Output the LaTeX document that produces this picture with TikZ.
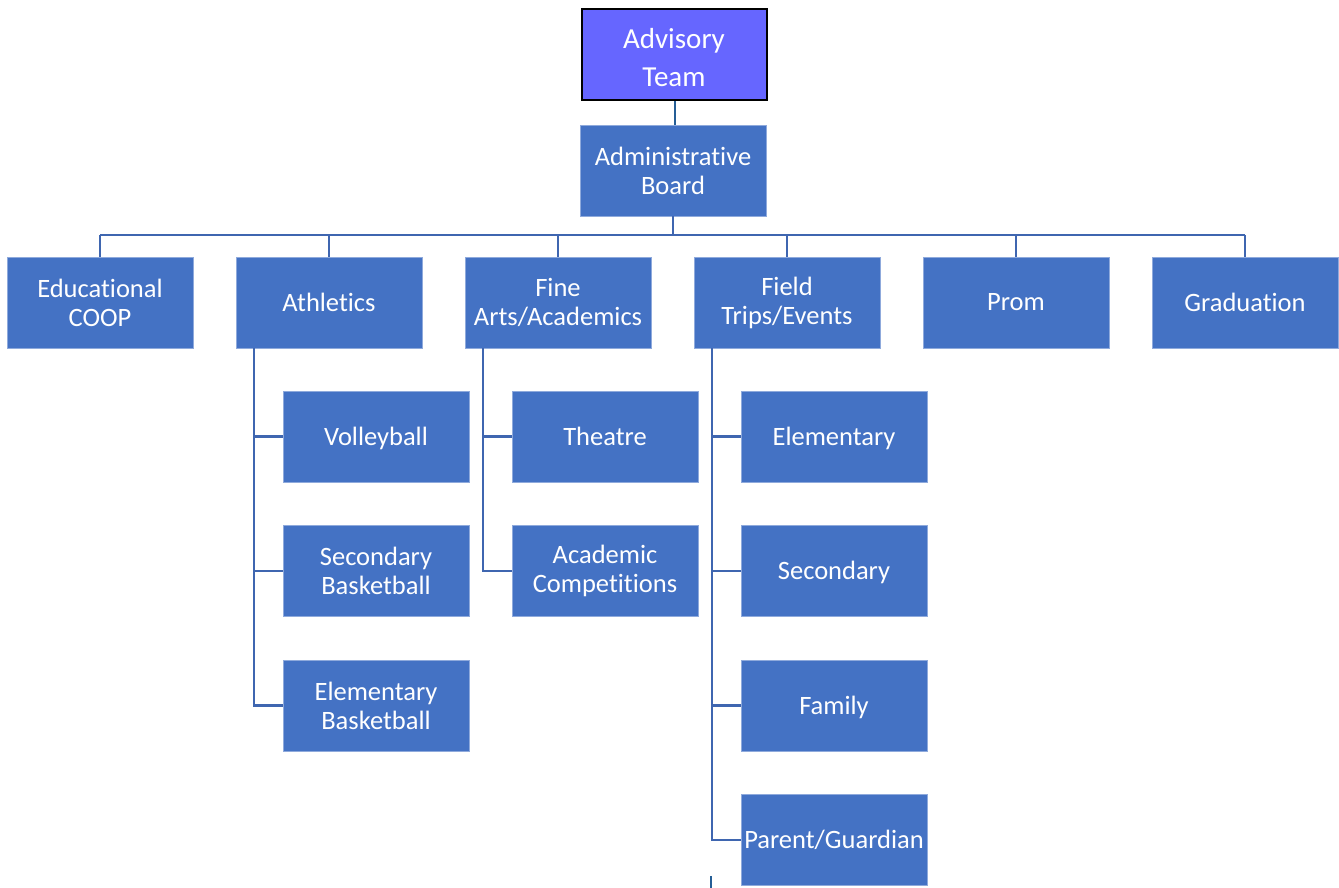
\documentclass[tikz,border=0pt]{standalone}
\usepackage{fontspec}
\setmainfont{Carlito}[Ligatures=NoCommon]
\definecolor{boxblue}{HTML}{4472C4}
\definecolor{boxedge}{HTML}{8FAADC}
\definecolor{topfill}{HTML}{6666FF}
\definecolor{conn}{HTML}{3F66B0}
\definecolor{conndark}{HTML}{255E96}
\begin{document}
\begin{tikzpicture}[x=1pt,y=-1pt,
  orgbox/.style={rectangle, fill=boxblue, draw=boxedge, line width=0.8pt,
    minimum width=186pt, minimum height=91pt, inner sep=1pt, align=center,
    text=white, font=\fontsize{26.5}{29}\selectfont},
  onebox/.style={orgbox, text depth=0.12em},
  topbox/.style={orgbox, fill=topfill, draw=black, line width=2pt,
    minimum width=185pt, minimum height=91pt, font=\fontsize{29}{38}\selectfont},
  link/.style={draw=conn, line width=2.8pt},
  toplink/.style={draw=conndark, line width=2.8pt}]
\useasboundingbox (0,0) rectangle (1339,888);
% top
\node[topbox] (adv) at (674,55) {};
\node[text=white, align=center, font=\fontsize{29}{38}\selectfont] (advt) at (674,58) {Advisory\\Team};
\node[orgbox] (adm) at (673,170.5) {Administrative\\Board};
% level 2
\node[orgbox] (edu) at (100,302.5) {Educational\\COOP};
\node[onebox] (ath) at (329,302.5) {Athletics};
\node[orgbox] (fin) at (558,302.5) {Fine\\Arts/Academics};
\node[orgbox] (fld) at (787,302.5) {Field\\Trips/Events};
\node[onebox] (prm) at (1016,302.5) {Prom};
\node[onebox] (grd) at (1245,302.5) {Graduation};
% athletics children
\node[onebox] (vb) at (376,436.5) {Volleyball};
\node[orgbox] (sb) at (376,571) {Secondary\\Basketball};
\node[orgbox] (eb) at (376,705.5) {Elementary\\Basketball};
% fine arts children
\node[onebox] (th) at (605,436.5) {Theatre};
\node[orgbox] (ac) at (605,571) {Academic\\Competitions};
% field trips children
\node[onebox] (fe) at (834,436.5) {Elementary};
\node[onebox] (fs) at (834,571) {Secondary};
\node[onebox] (ff) at (834,705.5) {Family};
\node[onebox, inner sep=0pt] (fp) at (834,840) {Parent/Guardian};
% connectors
\coordinate (advB) at ([xshift=1pt]adv.south);
\draw[toplink] (advB) -- (advB |- adm.north);
\coordinate (busL) at (100,235);
\coordinate (busR) at (1245,235);
\draw[link] (busL) -- (busR);
\draw[link] (adm.south) -- (adm.south |- busL);
\foreach \n in {edu,ath,fin,fld,prm,grd}{
  \draw[link] (\n.north) -- (\n.north |- busL);
}
\coordinate (athT) at (254,348);
\coordinate (finT) at (483,348);
\coordinate (fldT) at (712,348);
\foreach \c in {vb,sb,eb}{ \draw[link] (athT) |- (\c.west); }
\foreach \c in {th,ac}{ \draw[link] (finT) |- (\c.west); }
\foreach \c in {fe,fs,ff,fp}{ \draw[link] (fldT) |- (\c.west); }
% stray stub at bottom
\coordinate (stubA) at (711,876);
\coordinate (stubB) at (711,888);
\draw[toplink] (stubA) -- (stubB);
\end{tikzpicture}
\end{document}
